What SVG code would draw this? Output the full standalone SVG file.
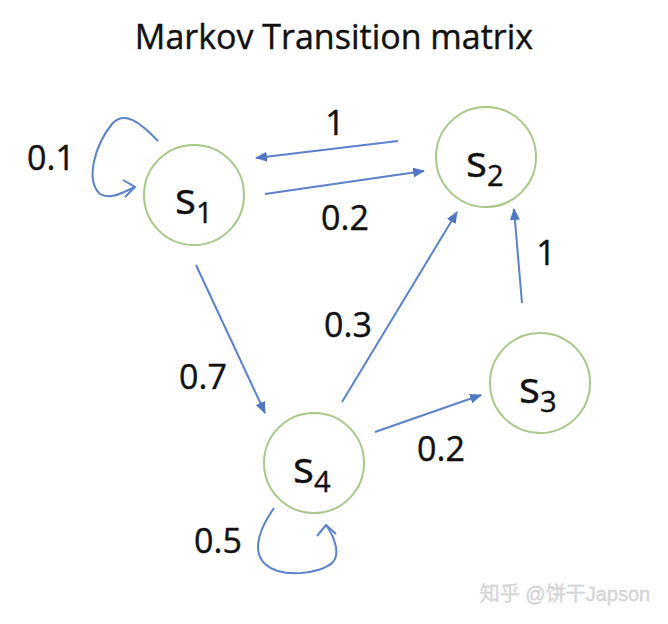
<svg xmlns="http://www.w3.org/2000/svg" width="668" height="624" viewBox="0 0 668 624">
<defs>
<marker id="ah" viewBox="0 0 12 10" refX="11" refY="5" markerWidth="12" markerHeight="10" orient="auto" markerUnits="userSpaceOnUse">
<path d="M0,0 L12,5 L0,10 z" fill="#4f78c3"/>
</marker>
<style>
.node{fill:#fff;stroke:#a8c88a;stroke-width:2}
.lbl{font-family:"Open Sans","Liberation Sans",sans-serif;font-size:34px;fill:#111;stroke:#111;stroke-width:0.4}
.st{font-family:"Open Sans","Liberation Sans",sans-serif;font-size:44px;fill:#111;stroke:#111;stroke-width:0.4}
.sub{font-size:29px}
.edge{fill:none;stroke:#5b82c8;stroke-width:2}
.ar{marker-end:url(#ah)}
</style>
</defs>
<rect width="668" height="624" fill="#fff"/>
<text x="334" y="49" text-anchor="middle" font-family="'Open Sans','Liberation Sans',sans-serif" font-size="34" fill="#111" stroke="#111" stroke-width="0.4">Markov Transition matrix</text>
<g id="connectors">
<line class="edge ar" x1="398" y1="141" x2="256" y2="158"/>
<line class="edge ar" x1="265" y1="194" x2="424" y2="171"/>
<line class="edge ar" x1="196" y1="265" x2="265" y2="413"/>
<line class="edge ar" x1="342" y1="402" x2="457" y2="212"/>
<line class="edge ar" x1="522" y1="303" x2="514" y2="209"/>
<line class="edge ar" x1="375" y1="432" x2="481" y2="395"/>
<path class="edge" d="M158,141 C140,122 124,110 112,124 C95,145 85,180 100,194 C110,200 122,193 135,187"/>
<path class="edge" d="M123,180 L135,187 L125,197"/>
<path class="edge" d="M274,508 C262,525 250,550 265,564 C280,578 320,575 333,562 C341,552 333,535 326,525"/>
<path class="edge" d="M317,536 L326,525 L336,534"/>
</g>
<g id="s1"><circle class="node" cx="194" cy="195" r="50"/><text class="st" x="175" y="214">s<tspan class="sub" dy="9">1</tspan></text></g>
<g id="s2"><circle class="node" cx="486" cy="157" r="50"/><text class="st" x="466" y="177">s<tspan class="sub" dy="9">2</tspan></text></g>
<g id="s3"><circle class="node" cx="540" cy="383" r="50"/><text class="st" x="519" y="403">s<tspan class="sub" dy="9">3</tspan></text></g>
<g id="s4"><circle class="node" cx="314" cy="463" r="50"/><text class="st" x="293" y="483">s<tspan class="sub" dy="9">4</tspan></text></g>
<g id="labels">
<text class="lbl" x="51" y="170" text-anchor="middle">0.1</text>
<text class="lbl" x="335" y="135" text-anchor="middle">1</text>
<text class="lbl" x="345" y="230" text-anchor="middle">0.2</text>
<text class="lbl" x="546" y="265" text-anchor="middle">1</text>
<text class="lbl" x="348" y="337" text-anchor="middle">0.3</text>
<text class="lbl" x="203" y="389" text-anchor="middle">0.7</text>
<text class="lbl" x="441" y="461" text-anchor="middle">0.2</text>
<text class="lbl" x="218" y="553" text-anchor="middle">0.5</text>
</g>
<text x="565" y="601" text-anchor="middle" font-family="'Liberation Sans','Noto Sans CJK SC',sans-serif" font-size="20" fill="#dadada" stroke="#c8c8c8" stroke-width="0.3">知乎 @饼干Japson</text>
</svg>
